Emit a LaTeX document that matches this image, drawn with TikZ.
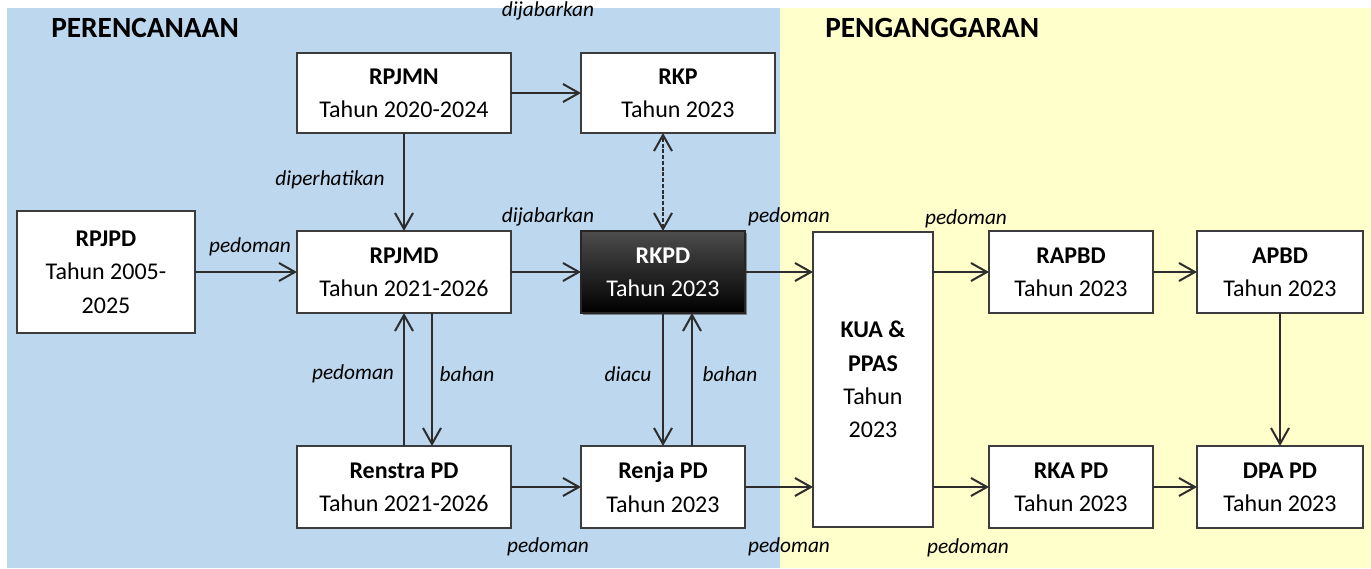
\documentclass[tikz,border=0pt]{standalone}
\usepackage{fontspec}
\setmainfont{Carlito}
\usetikzlibrary{arrows.meta,shadows}
\definecolor{bgblue}{RGB}{189,215,238}
\definecolor{bgyellow}{RGB}{255,255,204}
\definecolor{edgec}{RGB}{60,60,60}
\definecolor{arrc}{RGB}{45,45,45}
\begin{document}
\begin{tikzpicture}[x=0.75pt,y=-0.75pt,
  box/.style 2 args={draw=edgec, fill=white, line width=1.4pt,
    minimum width=#1*0.75pt, minimum height=#2*0.75pt,
    inner sep=0pt, outer sep=0pt, align=center,
    font=\fontsize{18}{25}\selectfont},
  darkbox/.style={draw=black!85, top color=black!70, middle color=black, bottom color=black,
    text=white, drop shadow={shadow xshift=1.6pt, shadow yshift=-1.6pt, fill=black!70, opacity=0.6}},
  tip/.tip={Straight Barb[length=12pt,width=13.5pt]},
  arr/.style={draw=arrc, line width=1.5pt, -tip},
  darr/.style={draw=arrc, line width=1.5pt, tip-tip, dash pattern=on 3pt off 1.3pt},
  lab/.style={font=\fontsize{16}{19}\selectfont\itshape, inner sep=0pt},
  title/.style={font=\fontsize{22}{26}\selectfont\bfseries, inner sep=0pt, anchor=west}]
\useasboundingbox (0,0) rectangle (1371,568);
\fill[bgblue] (7,8) rectangle (780,568);
\fill[bgyellow] (780,8) rectangle (1371,568);

\node[title] (t1) at (51,28) {PERENCANAAN};
\node[title] (t2) at (825,28) {PENGANGGARAN};

\node[box={178}{122}] (rpjpd) at (106,272) {\textbf{RPJPD}\\Tahun 2005-\\2025};
\node[box={214}{80}] (rpjmn) at (404,93) {\textbf{RPJMN}\\Tahun 2020-2024};
\node[box={194}{80}] (rkp) at (678,93) {\textbf{RKP}\\Tahun 2023};
\node[box={214}{82}] (rpjmd) at (404,272) {\textbf{RPJMD}\\Tahun 2021-2026};
\node[box={164}{82}, darkbox] (rkpd) at (663,272) {\textbf{RKPD}\\Tahun 2023};
\node[box={214}{82}] (renstra) at (404,487) {\textbf{Renstra PD}\\Tahun 2021-2026};
\node[box={164}{82}] (renja) at (663,487) {\textbf{Renja PD}\\Tahun 2023};
\node[box={120}{295}] (kua) at (873,379.5) {\textbf{KUA \&}\\\textbf{PPAS}\\Tahun\\2023};
\node[box={164}{82}] (rapbd) at (1071,272) {\textbf{RAPBD}\\Tahun 2023};
\node[box={166}{82}] (apbd) at (1280,272) {\textbf{APBD}\\Tahun 2023};
\node[box={164}{82}] (rka) at (1071,487) {\textbf{RKA PD}\\Tahun 2023};
\node[box={166}{82}] (dpa) at (1280,487) {\textbf{DPA PD}\\Tahun 2023};

\draw[arr] (rpjpd.east) -- (rpjpd.east -| rpjmd.west);
\draw[arr] (rpjmn.east) -- (rkp.west);
\draw[arr] (rpjmn.south) -- (rpjmd.north);
\draw[arr] (rpjmd.east) -- (rpjmd.east -| rkpd.west);
\draw[darr] (rkpd.north) -- (rkpd.north |- rkp.south);
\draw[arr] (renstra.north) -- (rpjmd.south);
\draw[arr] ([xshift=21pt]rpjmd.south) -- ([xshift=21pt]rpjmd.south |- renstra.north);
\draw[arr] (rkpd.south) -- (rkpd.south |- renja.north);
\draw[arr] ([xshift=21.75pt]renja.north) -- ([xshift=21.75pt]renja.north |- rkpd.south);
\draw[arr] (renstra.east) -- (renja.west);
\draw[arr] (rkpd.east) -- (rkpd.east -| kua.west);
\draw[arr] (renja.east) -- (renja.east -| kua.west);
\draw[arr] (kua.east |- rapbd.west) -- (rapbd.west);
\draw[arr] (kua.east |- rka.west) -- (rka.west);
\draw[arr] (rapbd) -- (apbd);
\draw[arr] (rka) -- (dpa);
\draw[arr] (apbd) -- (dpa);

\node[lab] (l1) at (548,11) {dijabarkan};
\node[lab] (l2) at (330,180) {diperhatikan};
\node[lab] (l3) at (548,217) {dijabarkan};
\node[lab] (l4) at (250,247) {pedoman};
\node[lab] (l5) at (353,374) {pedoman};
\node[lab] (l6) at (467,374) {bahan};
\node[lab] (l7) at (628,374) {diacu};
\node[lab] (l8) at (730,374) {bahan};
\node[lab] (l9) at (789,217) {pedoman};
\node[lab] (l10) at (966,219) {pedoman};
\node[lab] (l11) at (548,547) {pedoman};
\node[lab] (l12) at (789,547) {pedoman};
\node[lab] (l13) at (968,548) {pedoman};
\end{tikzpicture}
\end{document}
